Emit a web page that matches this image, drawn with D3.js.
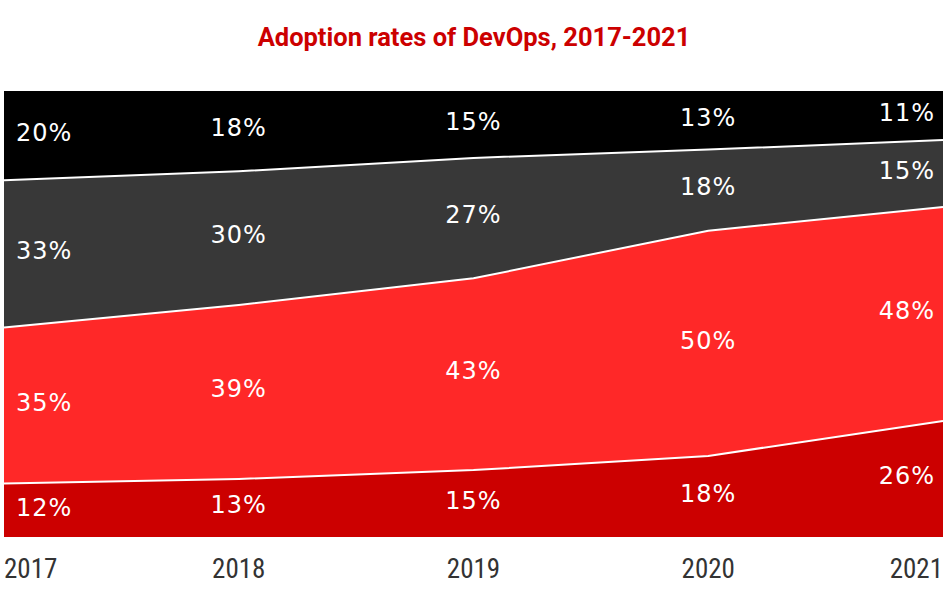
<!DOCTYPE html>
<html><head><meta charset="utf-8">
<script src="https://cdn.jsdelivr.net/npm/d3@7"></script>
<style>body{margin:0;background:#fff;} svg{display:block;}</style>
</head><body>
<svg id="chart" width="948" height="606"></svg>
<script>
const years = ["2017","2018","2019","2020","2021"];
const seriesNames = ["s1","s2","s3","s4"]; // bottom to top
const s1 = [12,13,15,18,26];
const s2 = [35,39,43,50,48];
const s3 = [33,30,27,18,15];
const s4 = [20,18,15,13,11];
const colors = ["#cc0000","#ff2828","#383838","#000000"];
const title = "Adoption rates of DevOps, 2017-2021";

(function(){
const plotLeft=4, plotRight=943, plotTop=91, plotBottom=537;
const svg=d3.select("#chart");
const table = years.map((y,i)=>({year:y,s1:s1[i],s2:s2[i],s3:s3[i],s4:s4[i]}));
const stack=d3.stack().keys(seriesNames).offset(d3.stackOffsetExpand);
const layers=stack(table);
const x=d3.scalePoint().domain(years).range([plotLeft,plotRight]);
const y=d3.scaleLinear().domain([0,1]).range([plotBottom,plotTop]);

const area=d3.area().x(d=>x(d.data.year)).y0(d=>y(d[0])).y1(d=>y(d[1]));
svg.append("g").selectAll("path").data(layers).join("path")
  .attr("d",area).attr("fill",(d,i)=>colors[i]);
const line=d3.line().x(d=>x(d.data.year)).y(d=>y(d[1]));
svg.append("g").selectAll("path").data(layers.slice(0,3)).join("path")
  .attr("d",line).attr("fill","none").attr("stroke","#fff").attr("stroke-width",2);

const n=years.length;
const lg=svg.append("g").attr("font-family","'DejaVu Sans', sans-serif").attr("font-size",24)
  .attr("letter-spacing",1).attr("fill","#fff");
layers.forEach((layer,k)=>{
  layer.forEach((d,i)=>{
    const xp = i===0 ? plotLeft+12 : (i===n-1 ? plotRight-8 : x(d.data.year));
    const anchor = i===0 ? "start" : (i===n-1 ? "end" : "middle");
    lg.append("text").attr("x",xp).attr("y",(y(d[0])+y(d[1]))/2)
      .attr("dy","0.22em").attr("text-anchor",anchor).text(d.data[seriesNames[k]]+"%");
  });
});

const ag=svg.append("g").attr("font-family","'Roboto Condensed','Liberation Sans Narrow',Roboto,sans-serif").attr("font-size",27).attr("fill","#333");
years.forEach((yr,i)=>{
  const anchor = i===0 ? "start" : (i===n-1 ? "end" : "middle");
  ag.append("text").attr("x",x(yr)).attr("y",578).attr("text-anchor",anchor).text(yr);
});

svg.append("text").attr("x",474).attr("y",46).attr("text-anchor","middle")
  .attr("font-family","Roboto, sans-serif").attr("font-weight","bold").attr("font-size",25.5)
  .attr("fill","#cc0000").text(title);
})();
</script>
</body></html>
